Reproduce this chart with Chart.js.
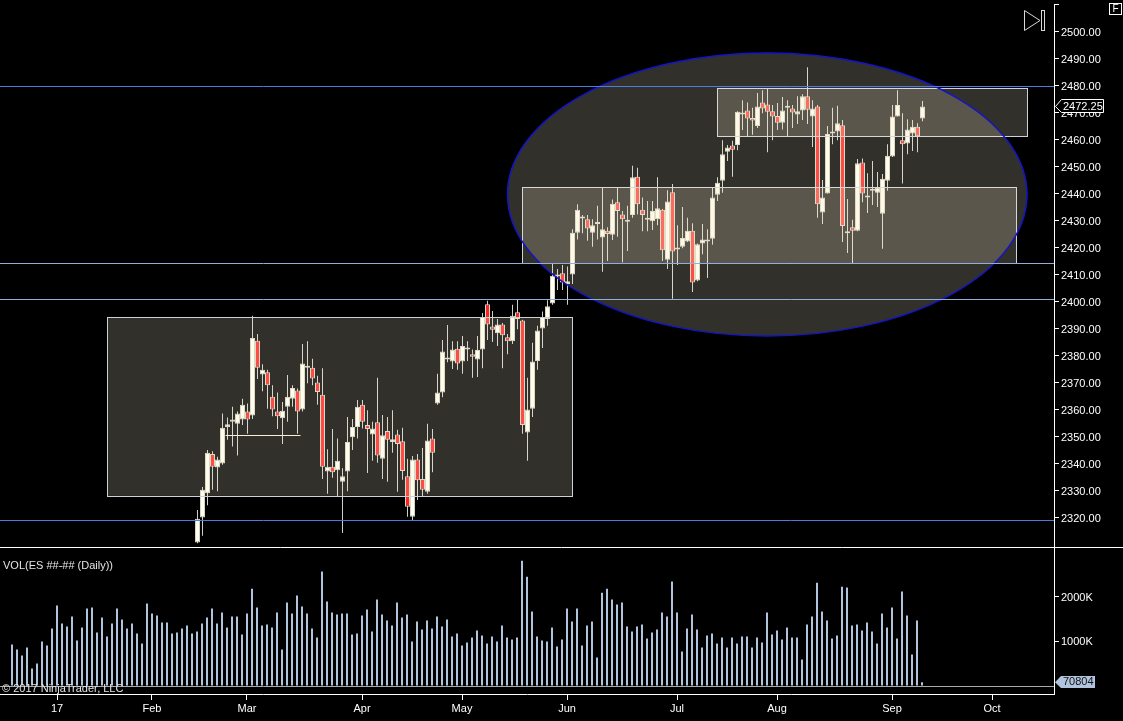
<!DOCTYPE html>
<html>
<head>
<meta charset="utf-8">
<title>ES daily</title>
<script src="https://cdn.jsdelivr.net/npm/chart.js@4"></script>
<style>
  html, body { margin: 0; padding: 0; background: #000; overflow: hidden; }
  canvas { position: absolute; left: 0; }
  #precos { top: 0; }
  #volume { top: 547px; }
</style>
</head>
<body>
<canvas id="precos" width="1123" height="547"></canvas>
<canvas id="volume" width="1123" height="174"></canvas>
<script>
// first candle sits on this session, the sessions before it are below the visible price range
const candleStart = 37;

const opens = [
  2310.75, 2320, 2329, 2343.5, 2338.5, 2340, 2353.5, 2355.5, 2354.75, 2356.25,
  2359.25, 2357.75, 2385.5, 2373, 2373.75, 2364.75, 2359.25, 2356.75, 2361, 2364,
  2367, 2360, 2375.5, 2375.5, 2370, 2365.5, 2337, 2338.75, 2337.5, 2333.25,
  2337, 2349.75, 2353.5, 2361.75, 2354.25, 2350.75, 2355.25, 2341.75, 2352, 2348,
  2350.75, 2348.25, 2335.25, 2320.25, 2341.5, 2334.25, 2329.5, 2349.25, 2362.25, 2366.25,
  2379.25, 2377.75, 2382.5, 2377.75, 2382.25, 2380.5, 2378.5, 2382.25, 2399, 2390.75,
  2388.25, 2391.5, 2386.75, 2385.25, 2396, 2393, 2351.5, 2360.25, 2378, 2390,
  2393.5, 2399.25, 2409.25, 2410.5, 2406.5, 2410, 2425.5, 2431.5, 2430.5, 2425.5,
  2428.75, 2423.75, 2426.25, 2424.75, 2436.75, 2432.25, 2429.5, 2432, 2446.25, 2434,
  2430.25, 2429.75, 2430.5, 2434, 2415.5, 2440.5, 2419.25, 2420.25, 2422.25, 2426.25,
  2407.75, 2421.5, 2422.25, 2423.25, 2439.5, 2444.75, 2455.5, 2457.75, 2458, 2469.25,
  2470.75, 2468, 2465, 2473.75, 2473, 2470.5, 2468.75, 2466.25, 2471.75, 2471.5,
  2469.25, 2470.75, 2476, 2468.5, 2472.25, 2433, 2440, 2463, 2463, 2465.25,
  2425.25, 2427.5, 2426.25, 2451.5, 2438.5, 2441, 2440.25, 2432.5, 2444.75, 2453.75,
  2468.5, 2459.75, 2458.5, 2462.25, 2464.75, 2467.75
];
const highs = [
  2322.75, 2331.25, 2345, 2344.5, 2342.5, 2358.5, 2357, 2361, 2359.25, 2364,
  2362.25, 2394.75, 2388, 2376.75, 2374.75, 2369, 2366.25, 2362.75, 2372.75, 2369,
  2367.75, 2384.25, 2385.25, 2378.75, 2372.5, 2375.25, 2345.25, 2352.75, 2349.25, 2338.25,
  2357.25, 2356.5, 2363.5, 2363.5, 2359.75, 2355.5, 2371.75, 2358, 2357.25, 2359.75,
  2352.5, 2353.25, 2341.75, 2342.75, 2343.5, 2345.75, 2354.75, 2352.75, 2373.25, 2385.75,
  2391.25, 2385.25, 2385.25, 2387.25, 2385.25, 2382.25, 2387.25, 2395.75, 2400.25, 2396.5,
  2393.5, 2392, 2388, 2398.75, 2400.75, 2393.25, 2371.75, 2384.75, 2391, 2396.25,
  2400.5, 2414, 2412, 2413.5, 2413, 2426.75, 2436, 2432, 2432, 2430.5,
  2435.5, 2442, 2427.5, 2437.75, 2442, 2433.5, 2435.5, 2450.25, 2449.5, 2438.5,
  2437.25, 2437.25, 2446, 2434.25, 2441.25, 2443.5, 2428.25, 2435, 2431, 2429,
  2421.5, 2428.75, 2426.75, 2442, 2446, 2459.75, 2458, 2459.5, 2470.5, 2474.5,
  2473.75, 2471.75, 2477.25, 2478.25, 2479, 2472.75, 2473.5, 2475.75, 2474.5, 2472.75,
  2476, 2476.75, 2486.75, 2474.5, 2472.75, 2445, 2465, 2471.75, 2472.5, 2467.25,
  2438, 2430.25, 2452.75, 2453, 2447.5, 2452, 2448, 2447.25, 2458.25, 2472.75,
  2478.25, 2469.75, 2467.5, 2467.25, 2466, 2474.25
];
const lows = [
  2310.5, 2313.25, 2324.5, 2330.25, 2329.75, 2339.5, 2348.75, 2346.25, 2343, 2354.25,
  2351, 2356.5, 2371.25, 2366.75, 2360.25, 2357.5, 2352.75, 2347.25, 2355.5, 2361,
  2351, 2359.25, 2369.75, 2369, 2361.75, 2334.25, 2328.75, 2334.75, 2328, 2314.25,
  2329.75, 2345, 2349.25, 2353, 2336.5, 2341, 2340.25, 2334.25, 2333.25, 2344,
  2329.5, 2334, 2320.25, 2319, 2326.5, 2328, 2328.75, 2336.75, 2361.75, 2364.5,
  2377.5, 2375, 2374.75, 2373.25, 2378, 2371.75, 2372, 2375.25, 2385.75, 2385,
  2383.5, 2375.25, 2380.5, 2384.25, 2389.75, 2351, 2341, 2357.25, 2374.75, 2382.75,
  2391, 2398.75, 2404.25, 2404.25, 2398.75, 2406.5, 2423, 2425.25, 2422.5, 2420.25,
  2423, 2411, 2415, 2422.75, 2424, 2414.5, 2418.75, 2431, 2432.25, 2426,
  2426, 2426.5, 2428.25, 2415, 2412, 2401, 2413.5, 2419.75, 2422, 2403.5,
  2407.5, 2417.5, 2408.75, 2421, 2437.25, 2440.25, 2452, 2446.25, 2456, 2463.5,
  2461.25, 2461.75, 2464.25, 2469.75, 2455.25, 2459.75, 2463.5, 2463.75, 2461.25, 2464.25,
  2465.75, 2467.25, 2465.75, 2457.25, 2431, 2428.75, 2440, 2458.25, 2459.75, 2422,
  2418, 2414.25, 2426, 2436.75, 2432.75, 2435.75, 2435, 2419.5, 2441, 2453.5,
  2468.5, 2443.75, 2454.5, 2455.75, 2455.25, 2466.75
];
const closes = [
  2319.5, 2330.25, 2344, 2338.75, 2341.5, 2353.25, 2354.5, 2356.25, 2358.5, 2361.75,
  2356.25, 2386.5, 2375.5, 2374.75, 2369, 2360, 2357.5, 2359.5, 2364.75, 2368,
  2359.25, 2377, 2375.75, 2371.5, 2366.5, 2338.75, 2338.75, 2336.75, 2341, 2335.25,
  2348, 2353.5, 2361, 2355.5, 2352.75, 2353, 2343, 2350.5, 2348.75, 2349,
  2347.25, 2337.25, 2324, 2341.5, 2333.75, 2330.25, 2348.5, 2344, 2366.25, 2381.5,
  2378.5, 2382.25, 2377, 2383.5, 2382.5, 2379.5, 2382, 2394.25, 2391.5, 2389.5,
  2391.5, 2387.5, 2385.25, 2394.75, 2393.5, 2354.25, 2360, 2377.75, 2389.25, 2394.25,
  2398.25, 2409.5, 2410, 2407, 2407.5, 2425.5, 2434, 2430.75, 2427, 2428.25,
  2429, 2426.75, 2425, 2436.25, 2433.5, 2430.5, 2429.75, 2446, 2436, 2432,
  2430.5, 2433.5, 2434.5, 2419, 2437, 2418.5, 2419.75, 2423.5, 2426.25, 2407,
  2421.25, 2423, 2423, 2438.5, 2444, 2454.5, 2457, 2456.25, 2470.25, 2469.75,
  2467.75, 2467, 2472.25, 2471.5, 2470.25, 2468.5, 2466.25, 2470.75, 2472.25, 2470,
  2470.5, 2476, 2471, 2471.5, 2436, 2438.5, 2462, 2462.25, 2466, 2428,
  2425.5, 2426.25, 2451.25, 2440, 2439.25, 2441.25, 2442.25, 2445.5, 2454, 2468.5,
  2472.75, 2458.25, 2463.75, 2464.75, 2461.25, 2472.25
];

// volume in thousands, one value per session from the first session shown
const volumeK = [
  922, 810, 675, 855, 382, 495, 990, 900, 1282, 1800,
  1395, 1327, 1552, 1012, 1305, 1732, 1755, 1192, 1530, 1102,
  1395, 1732, 1485, 1282, 1395, 1170, 945, 1845, 1620, 1575,
  1417, 1417, 1170, 1192, 1282, 1350, 1170, 1215, 1395, 1530,
  1732, 1395, 1642, 1305, 1552, 1552, 1147, 1620, 2182, 1755,
  1350, 1372, 1305, 1642, 810, 1867, 1620, 2025, 1777, 1620,
  1282, 1080, 2565, 1890, 1642, 1597, 1620, 1620, 1147, 1170,
  1575, 1710, 1215, 1935, 1597, 1462, 1350, 1867, 1530, 1597,
  990, 1440, 1260, 1462, 1282, 1552, 1327, 1485, 1102, 1170,
  900, 967, 1080, 1237, 1125, 945, 1102, 990, 1350, 1080,
  1035, 1080, 2812, 2452, 1665, 1102, 1012, 990, 1305, 877,
  1035, 1732, 1440, 1732, 900, 1350, 1440, 630, 2092, 2182,
  1935, 1822, 1867, 1327, 1215, 1327, 1372, 1057, 1192, 1260,
  1642, 1552, 2340, 1642, 765, 1282, 1597, 1260, 855, 1125,
  1170, 945, 1080, 855, 1080, 945, 1102, 1102, 855, 1080,
  967, 1642, 1147, 1237, 1035, 1305, 1080, 1080, 585, 1372,
  1552, 2317, 1665, 1462, 1057, 1125, 2227, 2205, 1350, 1372,
  1237, 1417, 1215, 945, 1620, 1305, 1755, 1057, 2115, 1575,
  697, 1462, 70.804
];

const monthTicks = [9, 28, 47, 70, 90, 111, 133, 153, 176, 196];
const monthLabels = ['17', 'Feb', 'Mar', 'Apr', 'May', 'Jun', 'Jul', 'Aug', 'Sep', 'Oct'];
const priceTicks = [2320, 2330, 2340, 2350, 2360, 2370, 2380, 2390, 2400, 2410, 2420, 2430, 2440, 2450, 2460, 2470, 2480, 2490, 2500];
const volumeTicks = [1000, 2000];

// drawing objects of the chart, in session index and price
const zoneLeft = [18.9, 101.9, 140.9];
const zoneRight = [112, 200.7, 202.9];
const zoneTop = [2394.25, 2442.4, 2479.1];
const zoneBottom = [2328, 2414.25, 2461.3];
const ellipseSpan = [99, 202.9];
const ellipsePrice = [2387.2, 2492];
const blueLevels = [2479.75, 2319];
const paleLevels = [2414.15, 2400.8];
const shortLine = { from: 42.6, to: 57.6, price: 2350.6 };

const FONTE = "'Liberation Sans', Arial, sans-serif";
const EIXO_DIR = 69;       // largura reservada para a escala da direita
const PX_SESSAO = 5;
const ZONA_COR = 'rgba(250, 240, 210, 0.2)';

Chart.defaults.font.family = FONTE;
Chart.defaults.font.size = 11;
Chart.defaults.color = '#ffffff';
Chart.defaults.animation = false;
Chart.defaults.devicePixelRatio = 1;
Chart.defaults.events = [];

const indices = opens.map((_, k) => k + candleStart);

// desenhos por cima dos candles, a transparência clareia o que está por baixo
const desenhosPlugin = {
  id: 'desenhos',
  afterDatasetsDraw(chart) {
    const ctx = chart.ctx;
    const x = chart.scales.x;
    const y = chart.scales.y;
    const area = chart.chartArea;

    ctx.save();
    ctx.beginPath();
    ctx.rect(area.left, area.top, area.width, area.height);
    ctx.clip();

    zoneLeft.forEach((_, k) => {
      const x0 = x.getPixelForValue(zoneLeft[k]);
      const x1 = x.getPixelForValue(zoneRight[k]);
      const y0 = y.getPixelForValue(zoneTop[k]);
      const y1 = y.getPixelForValue(zoneBottom[k]);
      ctx.fillStyle = ZONA_COR;
      ctx.fillRect(x0, y0, x1 - x0, y1 - y0);
      ctx.strokeStyle = '#cdd2da';
      ctx.lineWidth = 1;
      ctx.strokeRect(Math.round(x0) + 0.5, Math.round(y0) + 0.5, Math.round(x1 - x0), Math.round(y1 - y0));
    });

    const ex0 = x.getPixelForValue(ellipseSpan[0]);
    const ex1 = x.getPixelForValue(ellipseSpan[1]);
    const ey0 = y.getPixelForValue(ellipsePrice[1]);
    const ey1 = y.getPixelForValue(ellipsePrice[0]);
    ctx.beginPath();
    ctx.ellipse((ex0 + ex1) / 2, (ey0 + ey1) / 2, (ex1 - ex0) / 2, (ey1 - ey0) / 2, 0, 0, Math.PI * 2);
    ctx.fillStyle = ZONA_COR;
    ctx.fill();
    ctx.strokeStyle = '#1414c8';
    ctx.lineWidth = 1.5;
    ctx.stroke();

    const nivel = (preco, cor) => {
      const py = Math.round(y.getPixelForValue(preco)) + 0.5;
      ctx.beginPath();
      ctx.moveTo(area.left, py);
      ctx.lineTo(area.right, py);
      ctx.strokeStyle = cor;
      ctx.lineWidth = 1;
      ctx.stroke();
    };
    blueLevels.forEach(p => nivel(p, '#4f7ae6'));
    paleLevels.forEach(p => nivel(p, '#8fb0dc'));

    const ly = Math.round(y.getPixelForValue(shortLine.price)) + 0.5;
    ctx.beginPath();
    ctx.moveTo(x.getPixelForValue(shortLine.from), ly);
    ctx.lineTo(x.getPixelForValue(shortLine.to), ly);
    ctx.strokeStyle = '#f5f0dc';
    ctx.stroke();
    ctx.restore();
  },
  afterDraw(chart) {
    const ctx = chart.ctx;
    const ultimo = closes[closes.length - 1];
    const py = chart.scales.y.getPixelForValue(ultimo);

    // etiqueta do último preço
    ctx.save();
    ctx.beginPath();
    ctx.moveTo(1055.5, Math.round(py) + 0.5);
    ctx.lineTo(1061.5, 99.5);
    ctx.lineTo(1103.5, 99.5);
    ctx.lineTo(1103.5, 112.5);
    ctx.lineTo(1061.5, 112.5);
    ctx.closePath();
    ctx.fillStyle = '#000';
    ctx.fill();
    ctx.strokeStyle = '#fff';
    ctx.lineWidth = 1;
    ctx.stroke();
    ctx.fillStyle = '#fff';
    ctx.font = '11px ' + FONTE;
    ctx.textBaseline = 'middle';
    ctx.fillText(ultimo.toFixed(2), 1063, 106.5);

    // botão F
    ctx.strokeRect(1109.5, 3.5, 12, 11);
    ctx.textAlign = 'center';
    ctx.font = '10px ' + FONTE;
    ctx.fillText('F', 1115.5, 9.5);

    // ícone de ir para a última barra
    ctx.strokeStyle = '#d8d8d8';
    ctx.beginPath();
    ctx.moveTo(1024.5, 10.5);
    ctx.lineTo(1040, 20.5);
    ctx.lineTo(1024.5, 30.5);
    ctx.closePath();
    ctx.stroke();
    ctx.strokeRect(1041.5, 10.5, 3, 20);
    ctx.restore();
  }
};

const volumePlugin = {
  id: 'volumeExtras',
  afterDatasetsDraw(chart) {
    const ctx = chart.ctx;
    const area = chart.chartArea;
    const zero = Math.round(chart.scales.y.getPixelForValue(0)) + 0.5;
    ctx.save();
    ctx.strokeStyle = '#a9a9a9';
    ctx.lineWidth = 1;
    ctx.beginPath();
    ctx.moveTo(area.left, zero);
    ctx.lineTo(area.right, zero);
    ctx.stroke();
    ctx.restore();
  },
  afterDraw(chart) {
    const ctx = chart.ctx;
    const ultimo = volumeK[volumeK.length - 1];
    const py = chart.scales.y.getPixelForValue(ultimo);

    ctx.save();
    // linha que separa os dois painéis
    ctx.strokeStyle = '#fff';
    ctx.lineWidth = 1;
    ctx.beginPath();
    ctx.moveTo(0, 0.5);
    ctx.lineTo(chart.width, 0.5);
    ctx.stroke();

    ctx.font = '11px ' + FONTE;
    ctx.textBaseline = 'middle';
    ctx.fillStyle = '#e4e4e4';
    ctx.fillText('VOL(ES ##-## (Daily))', 3, 19);
    ctx.fillText('\u00a9 2017 NinjaTrader, LLC', 2, 142);

    // etiqueta do último volume
    ctx.beginPath();
    ctx.moveTo(1055, py);
    ctx.lineTo(1061, 129);
    ctx.lineTo(1095, 129);
    ctx.lineTo(1095, 141);
    ctx.lineTo(1061, 141);
    ctx.closePath();
    ctx.fillStyle = '#b0c4de';
    ctx.fill();
    ctx.fillStyle = '#111';
    ctx.fillText(String(Math.round(ultimo * 1000)), 1063, 135);
    ctx.restore();
  }
};

// tira a margem que o Chart.js reserva para meia altura de rótulo
function fixarEixoDireita(scale) {
  scale.width = EIXO_DIR;
  scale.paddingTop = 0;
  scale.paddingBottom = 0;
}

// painel de preços
new Chart(document.getElementById('precos'), {
  type: 'bar',
  plugins: [desenhosPlugin],
  data: {
    datasets: [
      {
        // corpo do candle
        order: 1,
        data: indices.map((i, k) => ({ x: i, y: [opens[k], closes[k]] })),
        backgroundColor: indices.map((_, k) => closes[k] >= opens[k] ? '#fffff2' : '#ff2222'),
        borderColor: '#d6d3c2',
        borderWidth: 1,
        borderSkipped: false,
        inflateAmount: 0,
        barThickness: 5,
        minBarLength: 2,
        grouped: false
      },
      {
        // pavio
        order: 2,
        data: indices.map((i, k) => ({ x: i, y: [lows[k], highs[k]] })),
        backgroundColor: '#cfcfca',
        borderWidth: 0,
        inflateAmount: 0,
        barThickness: 1,
        grouped: false
      }
    ]
  },
  options: {
    responsive: false,
    layout: { padding: { top: 4, left: 0, right: 0, bottom: 0 } },
    plugins: { legend: { display: false }, tooltip: { enabled: false } },
    scales: {
      x: {
        type: 'linear',
        display: false,
        offset: false,
        grid: { offset: false },
        min: -2.5,
        max: -2.5 + 1054 / PX_SESSAO
      },
      y: {
        position: 'right',
        min: 2309.07,
        max: 2510.19,
        afterFit: fixarEixoDireita,
        afterBuildTicks(scale) {
          scale.ticks = priceTicks.map(v => ({ value: v })).concat([{ value: 2510.19 }]);
        },
        border: { color: '#fff' },
        grid: { drawOnChartArea: false, color: '#fff', tickLength: 5 },
        ticks: {
          padding: 2,
          labelOffset: 1,
          autoSkip: false,
          maxRotation: 0,
          callback: v => priceTicks.includes(v) ? v.toFixed(2) : ''
        }
      }
    }
  }
});

// painel de volume
new Chart(document.getElementById('volume'), {
  type: 'bar',
  plugins: [volumePlugin],
  data: {
    datasets: [{
      data: volumeK.map((v, i) => ({ x: i, y: v })),
      backgroundColor: '#b0c4de',
      borderWidth: 0,
      inflateAmount: 0,
      barThickness: 2
    }]
  },
  options: {
    responsive: false,
    layout: { padding: { top: 1, left: 0, right: 0, bottom: 0 } },
    plugins: { legend: { display: false }, tooltip: { enabled: false } },
    scales: {
      x: {
        type: 'linear',
        offset: false,
        min: -2.4,
        max: -2.4 + 1054 / PX_SESSAO,
        afterFit(scale) {
          scale.height = 27;
          scale.paddingLeft = 0;
          scale.paddingRight = 0;
        },
        afterBuildTicks(scale) {
          scale.ticks = monthTicks.map(v => ({ value: v }));
        },
        border: { color: '#fff' },
        grid: { drawOnChartArea: false, offset: false, color: '#fff', tickLength: 6 },
        ticks: {
          padding: 2,
          autoSkip: false,
          maxRotation: 0,
          callback: v => monthLabels[monthTicks.indexOf(v)]
        }
      },
      y: {
        position: 'right',
        min: -191,
        max: 3097,
        afterFit: fixarEixoDireita,
        afterBuildTicks(scale) {
          scale.ticks = volumeTicks.map(v => ({ value: v }));
        },
        border: { color: '#fff' },
        grid: { drawOnChartArea: false, color: '#fff', tickLength: 5 },
        ticks: {
          padding: 2,
          labelOffset: 1,
          autoSkip: false,
          maxRotation: 0,
          callback: v => v + 'K'
        }
      }
    }
  }
});
</script>
</body>
</html>
